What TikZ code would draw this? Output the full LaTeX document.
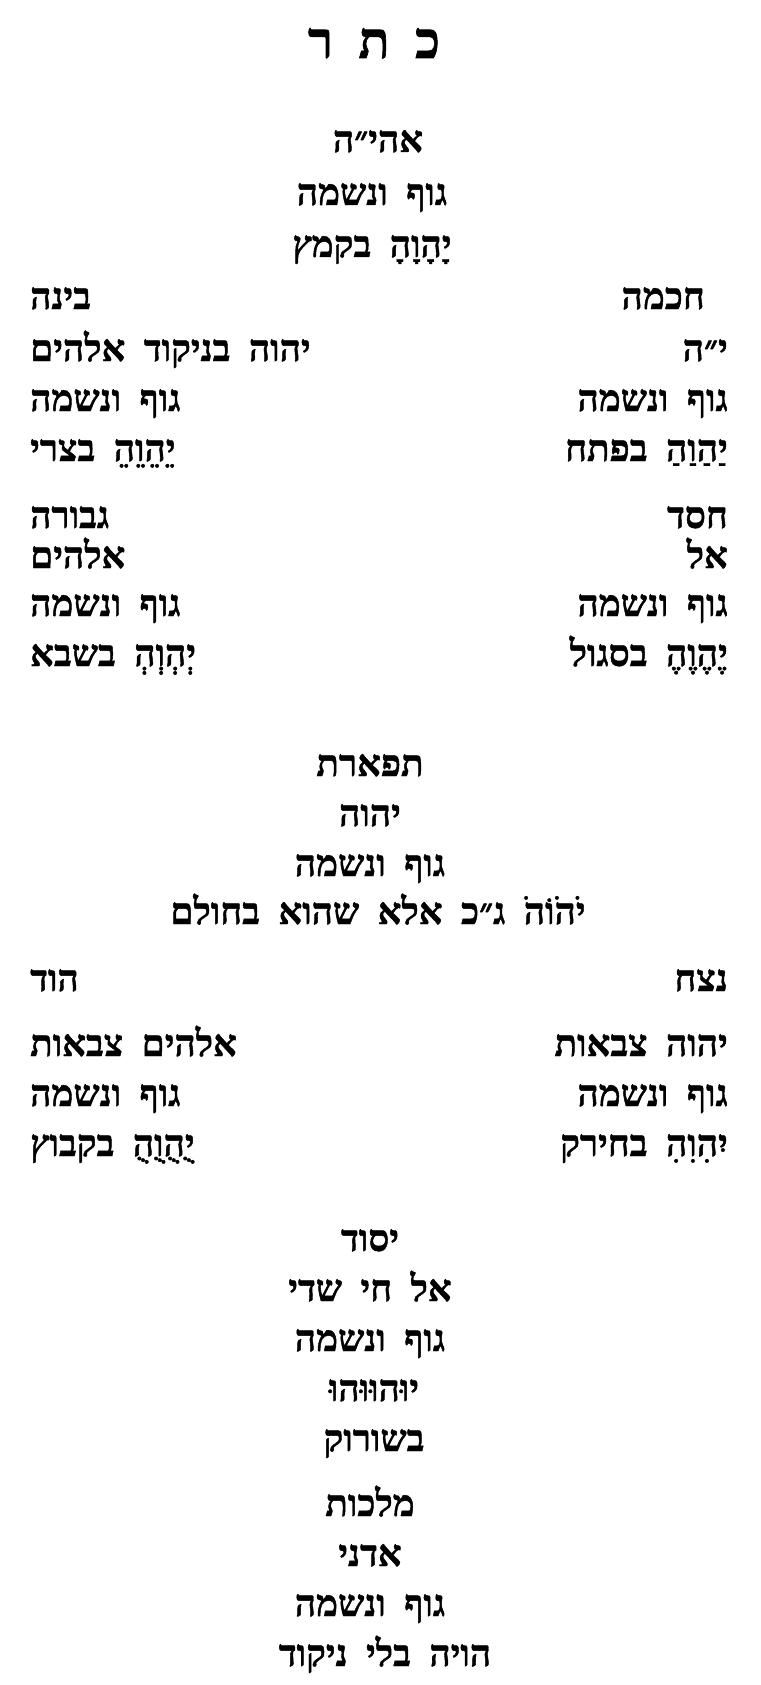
\documentclass[tikz,border=0pt]{standalone}
\usepackage{fontspec}
\TeXXeTstate=1
\newfontfamily\hebfont[Script=Hebrew,WordSpace=2.0,BoldFeatures={FakeBold=1.2}]{Liberation Serif}
\newcommand{\heb}[1]{\beginR #1\endR}
\tikzset{
  heb/.style={font=\hebfont\bfseries\fontsize{37}{40}\selectfont, inner sep=0pt},
  ttl/.style={font=\hebfont\bfseries\fontsize{51}{54}\selectfont, inner sep=0pt, anchor=base},
  ctr/.style={heb, anchor=base},
  rcol/.style={heb, anchor=base east},
  lcol/.style={heb, anchor=base west}
}
\begin{document}
\begin{tikzpicture}[x=1pt,y=-1pt]
\fill[white] (0,0) rectangle (760,1685);
\useasboundingbox (0,0) rectangle (760,1685);
% Keter
\node[ttl] (keter) at (374,58) {\heb{כ ת ר}};
\node[ctr] (k1) at (378,152) {\heb{אהי״ה}};
\node[ctr] (k2) at (372,205) {\heb{גוף ונשמה}};
\node[ctr] (k3) at (372,257) {\heb{יָהָוָהָ בקמץ}};
% Chochma / Bina
\node[rcol] (ch0) at (705,309) {\heb{חכמה}};
\node[lcol] (bi0) at (30,309) {\heb{בינה}};
\node[rcol] (ch1) at (728,361) {\heb{י״ה}};
\node[lcol] (bi1) at (30,361) {\heb{יהוה בניקוד אלהים}};
\node[rcol] (ch2) at (728,411) {\heb{גוף ונשמה}};
\node[lcol] (bi2) at (30,411) {\heb{גוף ונשמה}};
\node[rcol] (ch3) at (728,461) {\heb{יַהַוַהַ בפתח}};
\node[lcol] (bi3) at (30,461) {\heb{יֵהֵוֵהֵ בצרי}};
% Chesed / Gevura
\node[rcol] (cs0) at (728,528) {\heb{חסד}};
\node[lcol] (gv0) at (30,528) {\heb{גבורה}};
\node[rcol] (cs1) at (728,568) {\heb{אל}};
\node[lcol] (gv1) at (30,568) {\heb{אלהים}};
\node[rcol] (cs2) at (728,616) {\heb{גוף ונשמה}};
\node[lcol] (gv2) at (30,616) {\heb{גוף ונשמה}};
\node[rcol] (cs3) at (728,666) {\heb{יֶהֶוֶהֶ בסגול}};
\node[lcol] (gv3) at (30,666) {\heb{יְהְוְהְ בשבא}};
% Tiferet
\node[ctr] (tf0) at (370,776) {\heb{תפארת}};
\node[ctr] (tf1) at (370,826) {\heb{יהוה}};
\node[ctr] (tf2) at (370,876) {\heb{גוף ונשמה}};
\node[ctr] (tf3) at (378,924) {\heb{יֹהֹוֹהֹ ג״כ אלא שהוא בחולם}};
% Netzach / Hod
\node[rcol] (nz0) at (728,991) {\heb{נצח}};
\node[lcol] (hd0) at (30,991) {\heb{הוד}};
\node[rcol] (nz1) at (728,1056) {\heb{יהוה צבאות}};
\node[lcol] (hd1) at (30,1056) {\heb{אלהים צבאות}};
\node[rcol] (nz2) at (728,1106) {\heb{גוף ונשמה}};
\node[lcol] (hd2) at (30,1106) {\heb{גוף ונשמה}};
\node[rcol] (nz3) at (728,1156) {\heb{יִהִוִהִ בחירק}};
\node[lcol] (hd3) at (30,1156) {\heb{יֻהֻוֻהֻ בקבוץ}};
% Yesod
\node[ctr] (ys0) at (370,1251) {\heb{יסוד}};
\node[ctr] (ys1) at (370,1301) {\heb{אל חי שדי}};
\node[ctr] (ys2) at (370,1351) {\heb{גוף ונשמה}};
\node[ctr] (ys3) at (374,1401) {\heb{יוּהוּוּהוּ}};
\node[ctr] (ys4) at (374,1451) {\heb{בשורוק}};
% Malchut
\node[ctr] (ml0) at (370,1516) {\heb{מלכות}};
\node[ctr] (ml1) at (370,1566) {\heb{אדני}};
\node[ctr] (ml2) at (370,1616) {\heb{גוף ונשמה}};
\node[ctr] (ml3) at (385,1666) {\heb{הויה בלי ניקוד}};
\end{tikzpicture}
\end{document}
